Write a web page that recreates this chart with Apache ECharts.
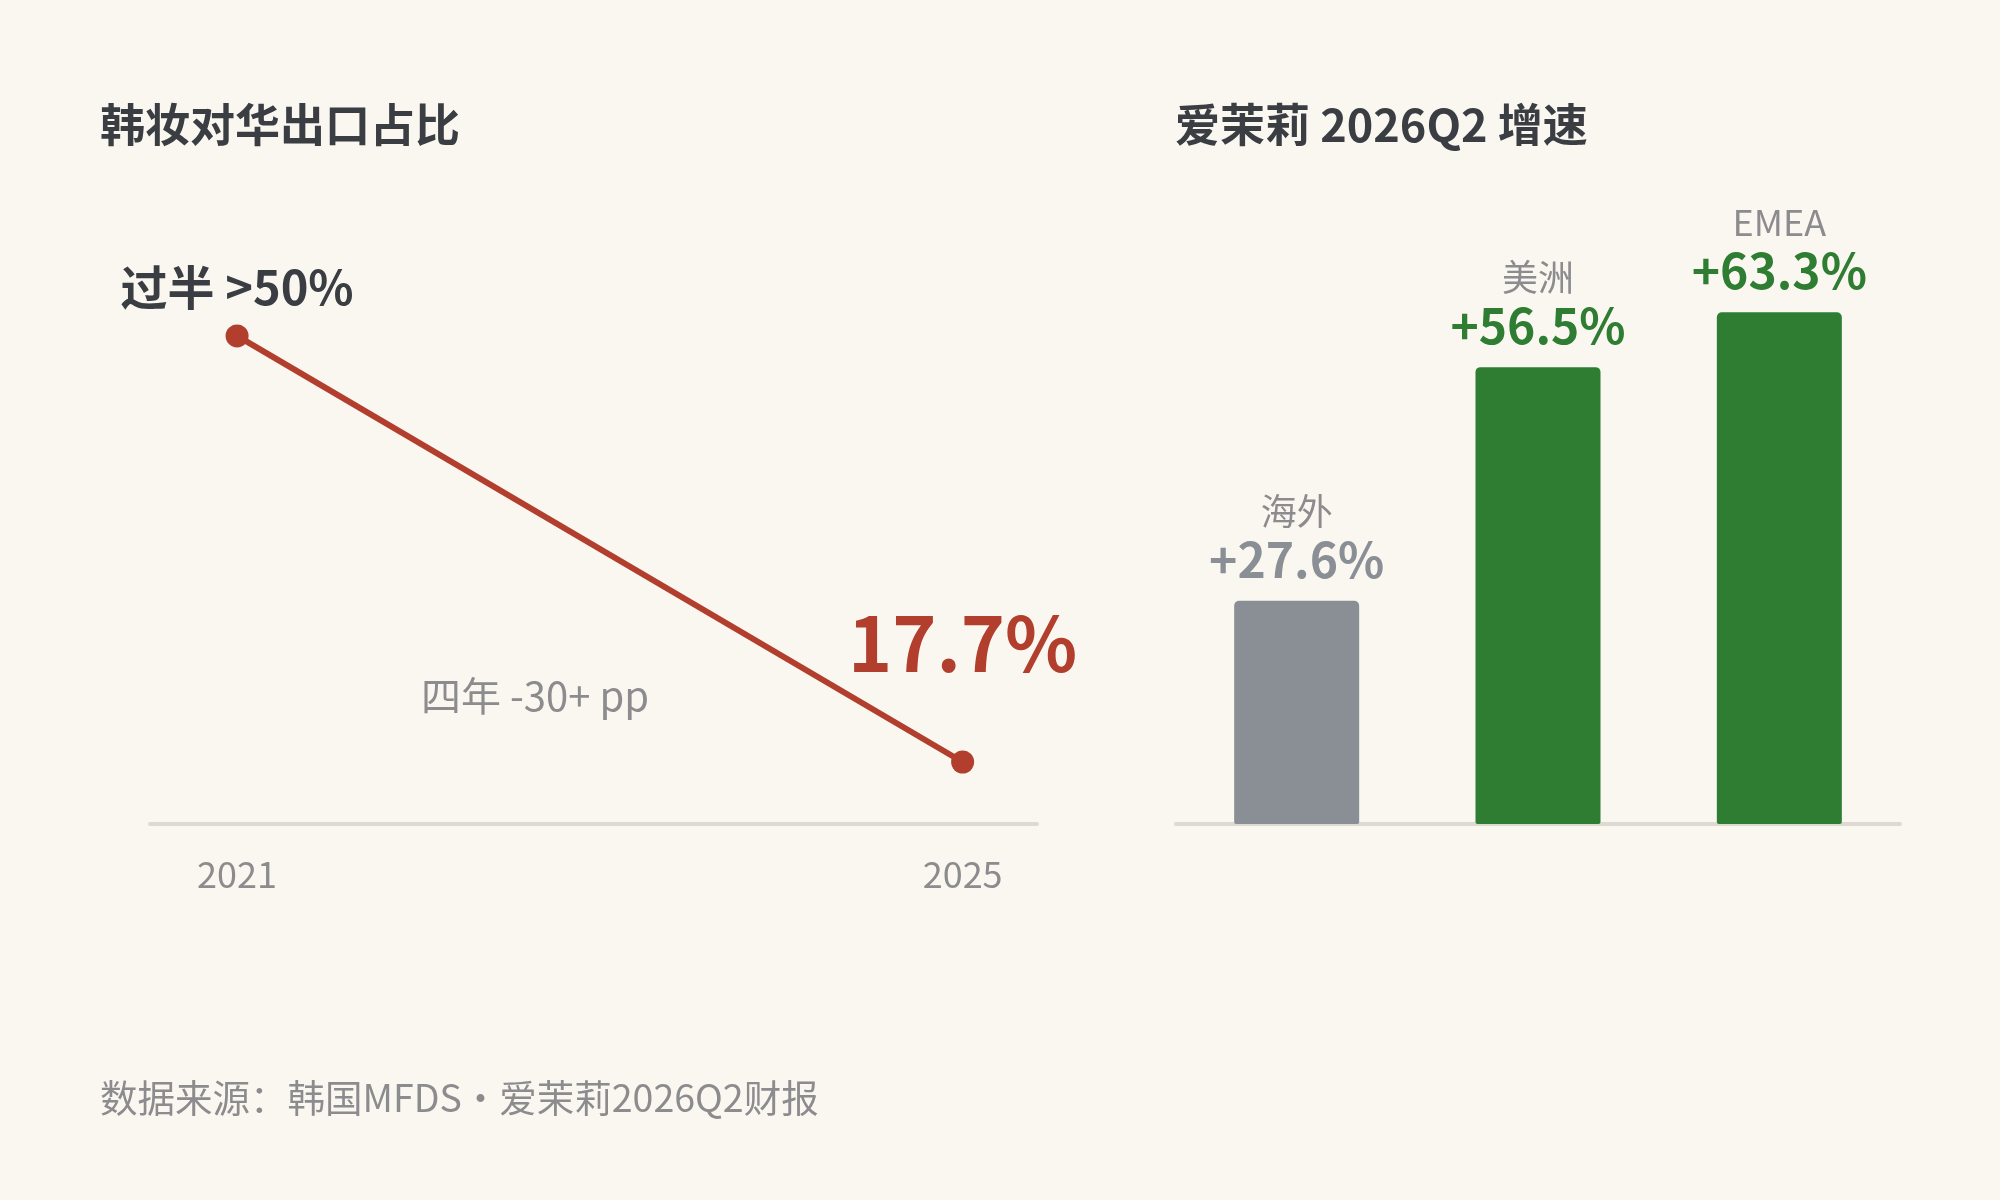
<!DOCTYPE html>
<html lang="zh">
<head>
    <meta charset="UTF-8">
    <title>韩妆对华出口占比 · 爱茉莉 2026Q2 增速</title>
    <style>
        html, body { margin: 0; padding: 0; background: #faf7f1; }
        #box { width: 2000px; height: 1200px; }
    </style>
</head>
<body>
<div id="box"></div>
<script src="https://cdn.jsdelivr.net/npm/echarts@6/dist/echarts.min.js"></script>
<script>
    // 左图：韩妆对华出口占比
    var years = [2021, 2025];
    var shareValues = [50, 17.7];
    var shareLabels = ['过半 >50%', '17.7%'];
    var yearTicks = [2021, 2025];

    // 右图：爱茉莉 2026Q2 增速
    var regions = ['海外', '美洲', 'EMEA'];
    var growthValues = [27.6, 56.5, 63.3];

    var FONT = '"Noto Sans CJK SC", "Noto Sans", sans-serif';
    var RED = '#b23f2d';
    var GREEN = '#2e7d32';
    var GREY = '#8a8e95';
    var TEXT_GREY = '#8c8c8f';
    var DARK = '#3a3d42';
    var AXIS = '#dedad2';

    var mychart = echarts.init(document.getElementById('box'));

    var linePoints = years.map(function (y, i) {
        return {
            value: [y, shareValues[i]],
            label: i === 0 ? {
                formatter: shareLabels[i],
                fontSize: 47, fontWeight: 'bold', color: DARK, distance: 14
            } : {
                formatter: shareLabels[i],
                fontSize: 75, fontWeight: 'bold', color: RED, distance: 70
            }
        };
    });

    var barData = regions.map(function (r, i) {
        var green = i > 0;
        return {
            value: growthValues[i],
            itemStyle: { color: green ? GREEN : GREY },
            label: {
                formatter: '{n|' + r + '}\n{v|+' + growthValues[i].toFixed(1) + '%}',
                rich: {
                    n: { fontSize: 36, color: TEXT_GREY, lineHeight: 46, fontFamily: FONT },
                    v: { fontSize: 48, fontWeight: 'bold', color: green ? GREEN : GREY, lineHeight: 52, fontFamily: FONT }
                }
            }
        };
    });

    var option = {
        backgroundColor: '#faf7f1',
        textStyle: { fontFamily: FONT },
        title: [
            { text: '韩妆对华出口占比', left: 100, top: 102, padding: 0,
              textStyle: { fontSize: 45, fontWeight: 'bold', color: DARK, fontFamily: FONT } },
            { text: '爱茉莉 2026Q2 增速', left: 1175, top: 102, padding: 0,
              textStyle: { fontSize: 45, fontWeight: 'bold', color: DARK, fontFamily: FONT } },
            { text: '数据来源：韩国MFDS·爱茉莉2026Q2财报', left: 100, top: 1079, padding: 0,
              textStyle: { fontSize: 37.5, fontWeight: 'normal', color: TEXT_GREY, fontFamily: FONT } }
        ],
        graphic: [{
            type: 'text',
            left: 421, top: 676,
            style: { text: '四年 -30+ pp', fontSize: 40, fill: TEXT_GREY, fontFamily: FONT }
        }],
        grid: [
            { left: 150, right: 963, top: 270, bottom: 376 },
            { left: 1176, right: 100, top: 258, bottom: 376 }
        ],
        xAxis: [
            {
                gridIndex: 0, type: 'value', min: 2020.52, max: 2025.41,
                splitLine: { show: false },
                axisTick: { show: false },
                axisLine: { show: true, onZero: false, lineStyle: { color: AXIS, width: 4 } },
                axisLabel: {
                    customValues: yearTicks,
                    formatter: function (v) { return String(v); },
                    fontSize: 36, color: TEXT_GREY, margin: 32, fontFamily: FONT
                }
            },
            {
                gridIndex: 1, type: 'category', data: regions,
                axisTick: { show: false },
                axisLabel: { show: false },
                axisLine: { show: true, lineStyle: { color: AXIS, width: 4 } }
            }
        ],
        yAxis: [
            { gridIndex: 0, type: 'value', min: 13, max: 55, show: false },
            { gridIndex: 1, type: 'value', min: 0, max: 70, show: false }
        ],
        series: [
            {
                type: 'line',
                xAxisIndex: 0, yAxisIndex: 0,
                data: linePoints,
                symbol: 'circle',
                symbolSize: 23,
                lineStyle: { color: RED, width: 6 },
                itemStyle: { color: RED },
                label: { show: true, position: 'top', fontFamily: FONT },
                z: 3
            },
            {
                type: 'bar',
                xAxisIndex: 1, yAxisIndex: 1,
                data: barData,
                barWidth: 125,
                itemStyle: { borderRadius: [5, 5, 2, 2] },
                label: { show: true, position: 'top', distance: 15, align: 'center' },
                z: 1
            }
        ]
    };
    mychart.setOption(option);
    window.onresize = mychart.resize;
</script>
</body>
</html>
